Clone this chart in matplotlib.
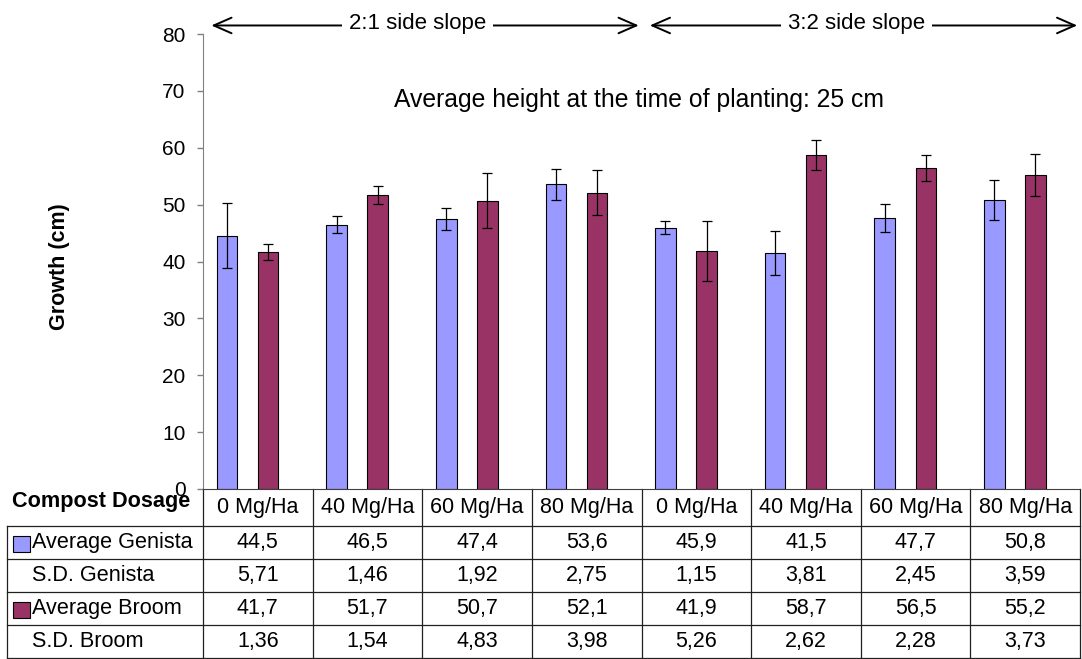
import matplotlib
matplotlib.use("Agg")
import matplotlib.pyplot as plt
from matplotlib.transforms import blended_transform_factory
from matplotlib.patches import Rectangle
import numpy as np

plt.rcParams['font.family'] = ['Liberation Sans', 'DejaVu Sans']

categories = ["0 Mg/Ha", "40 Mg/Ha", "60 Mg/Ha", "80 Mg/Ha",
              "0 Mg/Ha", "40 Mg/Ha", "60 Mg/Ha", "80 Mg/Ha"]
avg_genista = [44.5, 46.5, 47.4, 53.6, 45.9, 41.5, 47.7, 50.8]
sd_genista = [5.71, 1.46, 1.92, 2.75, 1.15, 3.81, 2.45, 3.59]
avg_broom = [41.7, 51.7, 50.7, 52.1, 41.9, 58.7, 56.5, 55.2]
sd_broom = [1.36, 1.54, 4.83, 3.98, 5.26, 2.62, 2.28, 3.73]
row_labels = ["Average Genista", "S.D. Genista", "Average Broom", "S.D. Broom"]
groups = ["2:1 side slope", "3:2 side slope"]

col_genista = "#9999FF"
col_broom = "#993366"

W, H = 1082, 659
fig = plt.figure(figsize=(W / 100, H / 100), dpi=100)
ax_l, ax_r, ax_t, ax_b = 203, 1080, 34, 489
ax = fig.add_axes([ax_l / W, 1 - ax_b / H, (ax_r - ax_l) / W, (ax_b - ax_t) / H])

x = np.arange(len(categories))
bw = 0.1875
ax.bar(x - 1.5 * bw, avg_genista, bw, color=col_genista, edgecolor="black", linewidth=0.8,
       yerr=sd_genista, error_kw=dict(ecolor="black", elinewidth=0.9, capsize=3.5, capthick=0.9))
ax.bar(x + 0.5 * bw, avg_broom, bw, color=col_broom, edgecolor="black", linewidth=0.8,
       yerr=sd_broom, error_kw=dict(ecolor="black", elinewidth=0.9, capsize=3.5, capthick=0.9))

ax.set_xlim(-0.5, len(categories) - 0.5)
ax.set_ylim(0, 80)
ax.set_yticks(np.arange(0, 81, 10))
ax.tick_params(axis='y', labelsize=15, length=4.5, width=1, color="#808080", pad=8)
ax.set_xticks([])
for s in ["top", "right"]:
    ax.spines[s].set_visible(False)
ax.spines["left"].set_color("#808080")
ax.spines["bottom"].set_color("#404040")

fig.text(60 / W, 1 - 266.7 / H, "Growth (cm)", rotation=90, fontsize=15.5, fontweight="bold",
         ha="center", va="center")

ax.text(3.48, 68.4, "Average height at the time of planting: 25 cm", fontsize=17.8,
        ha="center", va="center")

# top arrows
n = len(categories)
half = n // 2
spans = [(-0.5, half - 0.5), (half - 0.5, n - 0.5)]
for (a, b), lab in zip(spans, groups):
    ax.annotate("", xy=(b, 81.5), xytext=(a, 81.5), annotation_clip=False,
                arrowprops=dict(arrowstyle="<->,head_length=0.8,head_width=0.35",
                                color="black", lw=1.4, shrinkA=6, shrinkB=2, mutation_scale=16))
    ax.text((a + b) / 2 - 0.04, 81.5 + 0.35, lab, fontsize=16, ha="center", va="center",
            bbox=dict(facecolor="white", edgecolor="none", pad=5), clip_on=False)

# table
tr = blended_transform_factory(ax.transData, ax.transAxes)
def ay(py):
    return (ax_b - py) / (ax_b - ax_t)

rows_py = [489, 526, 559.3, 592.3, 625, 657.5]
left_x = (7.3 - ax_l) / ((ax_r - ax_l) / n) - 0.5
lw = 0.9
lc = "#202020"
for i in range(n + 1):
    ax.plot([i - 0.5, i - 0.5], [ay(489), ay(657.5)], transform=tr, color=lc, lw=lw, clip_on=False)
ax.plot([left_x, left_x], [ay(526), ay(657.5)], transform=tr, color=lc, lw=lw, clip_on=False)
for py in rows_py[1:]:
    ax.plot([left_x, n - 0.5], [ay(py), ay(py)], transform=tr, color=lc, lw=lw, clip_on=False)

for i, c in enumerate(categories):
    ax.text(i, ay((489 + 526) / 2), c, transform=tr, fontsize=15.5, ha="center", va="center",
            clip_on=False)
fig.text(101 / W, 1 - 502 / H, "Compost Dosage", fontsize=15.6, fontweight="bold",
         ha="center", va="center")

row_vals = [avg_genista, sd_genista, avg_broom, sd_broom]
fmt = ["{:.1f}", "{:.2f}", "{:.1f}", "{:.2f}"]
keys = [col_genista, None, col_broom, None]
for r in range(4):
    yc = ay((rows_py[r + 1] + rows_py[r + 2]) / 2)
    for i, v in enumerate(row_vals[r]):
        ax.text(i, yc, fmt[r].format(v).replace(".", ","), transform=tr, fontsize=15.5,
                ha="center", va="center", clip_on=False)
    fig.text(32 / W, 1 - ((rows_py[r + 1] + rows_py[r + 2]) / 2) / H, row_labels[r],
             fontsize=15.6, ha="left", va="center")
    if keys[r]:
        cy = (rows_py[r + 1] + rows_py[r + 2]) / 2 + 1
        fig.patches.append(Rectangle((12.7 / W, 1 - (cy + 8) / H), 17 / W, 16 / H,
                                     transform=fig.transFigure, facecolor=keys[r],
                                     edgecolor="black", linewidth=0.8))

fig.savefig("out.png", dpi=100)
